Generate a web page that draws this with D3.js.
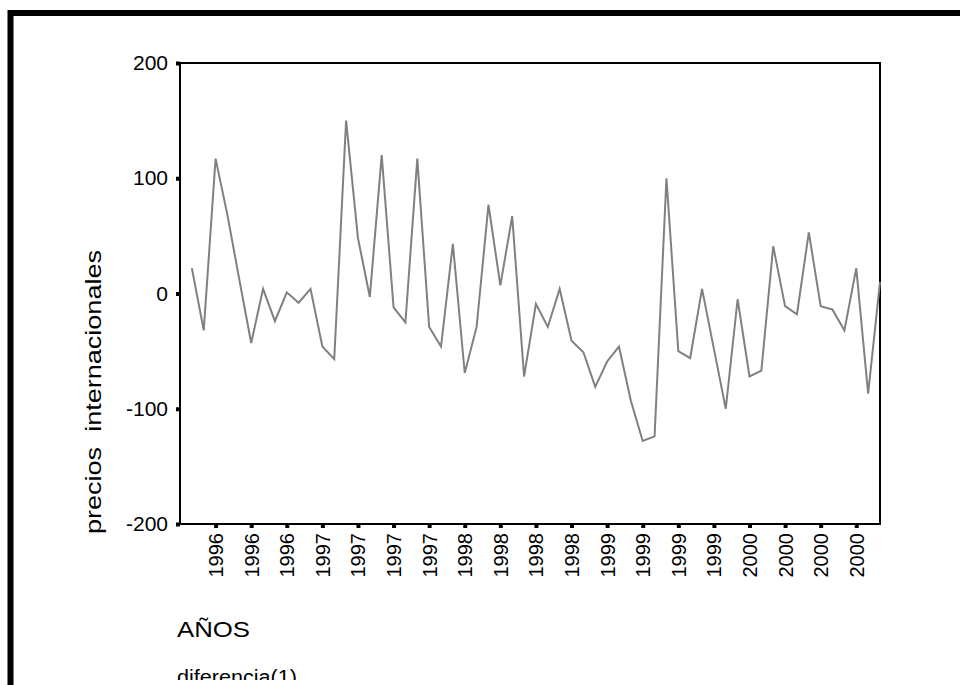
<!DOCTYPE html>
<html>
<head>
<meta charset="utf-8">
<script src="https://cdn.jsdelivr.net/npm/d3@7"></script>
<style>
  body { margin: 0; background: #fff; }
  svg { display: block; font-family: "Liberation Sans", Arial, sans-serif; }
</style>
</head>
<body>
<div id="chart"></div>
<script>

// monthly differences, first diff = Feb 1996
var values = [22, -32, 117, 68, 12, -43, 4, -24, 1, -8, 4, -46, -57, 150, 48, -3, 120, -12, -25, 117,
    -29, -46, 43, -69, -29, 77, 7, 67, -72, -9, -29, 4, -41, -51, -81, -59, -46, -93, -128, -124,
    100, -50, -56, 4, -48, -100, -5, -72, -67, 41, -11, -18, 53, -11, -14, -32, 22, -87, 10]

var tickLabels = ["1996", "1996", "1996", "1997", "1997", "1997", "1997", "1998", "1998", "1998",
    "1998", "1999", "1999", "1999", "1999", "2000", "2000", "2000", "2000"]

var yTicks = [-200, -100, 0, 100, 200]

var width = 960, height = 685

var plot = { left: 180, right: 880, top: 63, bottom: 524 }

var svg = d3.select("#chart").append("svg")
    .attr("width", width)
    .attr("height", height)

// outer frame (runs off the right and bottom edge)
svg.append("rect")
    .attr("x", 10.5)
    .attr("y", 13)
    .attr("width", 1000)
    .attr("height", 800)
    .attr("fill", "none")
    .attr("stroke", "#000")
    .attr("stroke-width", 6)

var x = d3.scaleLinear()
    .domain([-1, values.length - 1])
    .range([plot.left, plot.right])

var y = d3.scaleLinear()
    .domain([-200, 200])
    .range([plot.bottom, plot.top])

var tickIdx = tickLabels.map(function(d, i) { return i * 3 + 2 })

// y axis
var yAxis = svg.append("g")
    .attr("transform", "translate(" + plot.left + ",0)")
    .call(d3.axisLeft(y).tickValues(yTicks).tickSize(4).tickPadding(8)
        .tickFormat(function(d) { return String(d) }))

yAxis.select(".domain").remove()
yAxis.selectAll(".tick line").attr("stroke", "#000").attr("stroke-width", 4)
yAxis.selectAll(".tick text")
    .attr("font-size", 21)
    .attr("fill", "#000")
    .attr("font-family", "Liberation Sans, Arial, sans-serif")

// x axis
var xAxis = svg.append("g")
    .attr("transform", "translate(0," + plot.bottom + ")")
    .call(d3.axisBottom(x).tickValues(tickIdx).tickSize(4)
        .tickFormat(function(d, i) { return tickLabels[i] }))

xAxis.select(".domain").remove()
xAxis.selectAll(".tick line").attr("stroke", "#000").attr("stroke-width", 4)
xAxis.selectAll(".tick text")
    .attr("font-size", 20)
    .attr("fill", "#000")
    .attr("font-family", "Liberation Sans, Arial, sans-serif")
    .attr("transform", "rotate(-90)")
    .attr("text-anchor", "end")
    .attr("x", -9)
    .attr("y", 0)
    .attr("dy", "0.35em")

// plot frame
svg.append("rect")
    .attr("x", plot.left)
    .attr("y", plot.top)
    .attr("width", plot.right - plot.left)
    .attr("height", plot.bottom - plot.top)
    .attr("fill", "none")
    .attr("stroke", "#000")
    .attr("stroke-width", 2)

var line = d3.line()
    .x(function(d, i) { return x(i) })
    .y(function(d) { return y(d) })

svg.append("path")
    .datum(values)
    .attr("d", line)
    .attr("fill", "none")
    .attr("stroke", "#808080")
    .attr("stroke-width", 2)

// y title
svg.append("text")
    .attr("transform", "translate(101,392) rotate(-90)")
    .attr("text-anchor", "middle")
    .attr("font-size", 22)
    .attr("textLength", 284)
    .attr("lengthAdjust", "spacingAndGlyphs")
    .style("white-space", "pre")
    .text("precios  internacionales")

svg.append("text")
    .attr("x", 177)
    .attr("y", 637)
    .attr("font-size", 22)
    .attr("textLength", 73)
    .attr("lengthAdjust", "spacingAndGlyphs")
    .text("AÑOS")

// bottom note is cut by the frame edge in the original
svg.append("clipPath")
    .attr("id", "cut")
    .append("rect")
    .attr("x", 0).attr("y", 0).attr("width", width).attr("height", 680)

svg.append("text")
    .attr("clip-path", "url(#cut)")
    .attr("x", 177)
    .attr("y", 684)
    .attr("font-size", 20)
    .attr("textLength", 120)
    .attr("lengthAdjust", "spacingAndGlyphs")
    .text("diferencia(1)")

</script>
</body>
</html>
